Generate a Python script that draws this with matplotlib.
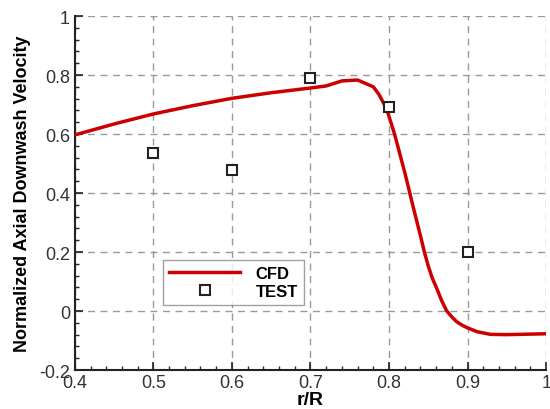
import matplotlib
matplotlib.use("Agg")
import matplotlib.pyplot as plt
from matplotlib.ticker import MultipleLocator

plt.rcParams["font.family"] = ["Liberation Sans", "DejaVu Sans"]

# CFD curve
cfd_r = [0.40, 0.45, 0.50, 0.55, 0.60, 0.65, 0.70, 0.72, 0.74, 0.76, 0.78,
         0.787, 0.797, 0.807, 0.82, 0.831, 0.84, 0.845, 0.85, 0.855, 0.861,
         0.867, 0.8735, 0.88, 0.886, 0.893, 0.899, 0.912, 0.929, 0.95, 1.0]
cfd_v = [0.597, 0.634, 0.668, 0.696, 0.721, 0.740, 0.756, 0.763, 0.780, 0.783, 0.760,
         0.735, 0.685, 0.60, 0.47, 0.35, 0.255, 0.20, 0.152, 0.112, 0.075,
         0.035, 0.0, -0.02, -0.036, -0.048, -0.056, -0.070, -0.079, -0.080, -0.077]

# test points
test_r = [0.5, 0.6, 0.7, 0.8, 0.9]
test_v = [0.536, 0.478, 0.791, 0.69, 0.20]

fig = plt.figure(figsize=(5.5, 4.1), dpi=100)
ax = fig.add_axes([0.136, 0.095, 0.857, 0.8635])

ax.plot(cfd_r, cfd_v, color="#cc0000", lw=2.5, label="CFD", zorder=3)
ax.plot(test_r, test_v, ls="none", marker="s", ms=7.5, mfc="white", mec="#222222",
        mew=1.5, label="TEST", zorder=4)

ax.set_xlim(0.4, 1.0)
ax.set_ylim(-0.2, 1.0)
ax.xaxis.set_major_locator(MultipleLocator(0.1))
ax.xaxis.set_minor_locator(MultipleLocator(0.02))
ax.yaxis.set_major_locator(MultipleLocator(0.2))
ax.yaxis.set_minor_locator(MultipleLocator(0.04))
ax.xaxis.set_major_formatter(plt.FuncFormatter(lambda v, p: f"{v:g}"))
ax.yaxis.set_major_formatter(plt.FuncFormatter(lambda v, p: f"{v:g}"))

ax.grid(True, which="major", color="#999999", ls=(0, (5, 4)), lw=1.0)
for side in ("top", "right"):
    ax.spines[side].set_visible(False)
for side in ("left", "bottom"):
    ax.spines[side].set_linewidth(1.5)
    ax.spines[side].set_color("#222222")

ax.tick_params(which="major", direction="in", length=6, width=1.2,
               labelsize=13, colors="#222222", labelcolor="#333333")
ax.tick_params(which="minor", direction="in", length=3, width=1.0, colors="#222222")
ax.tick_params(axis="x", pad=3)

ax.set_xlabel("r/R", fontsize=14, fontweight="bold", labelpad=0)
ax.set_ylabel("Normalized Axial Downwash Velocity", fontsize=13, fontweight="bold",
              labelpad=6)

leg = ax.legend(loc="lower left", bbox_to_anchor=(0.187, 0.184), borderaxespad=0,
                fancybox=False, edgecolor="#888888", handlelength=4.3,
                prop={"weight": "bold", "size": 12}, labelspacing=0.2,
                borderpad=0.35, handletextpad=0.9)
leg.get_frame().set_linewidth(1.0)

fig.savefig("out.png", dpi=100)
